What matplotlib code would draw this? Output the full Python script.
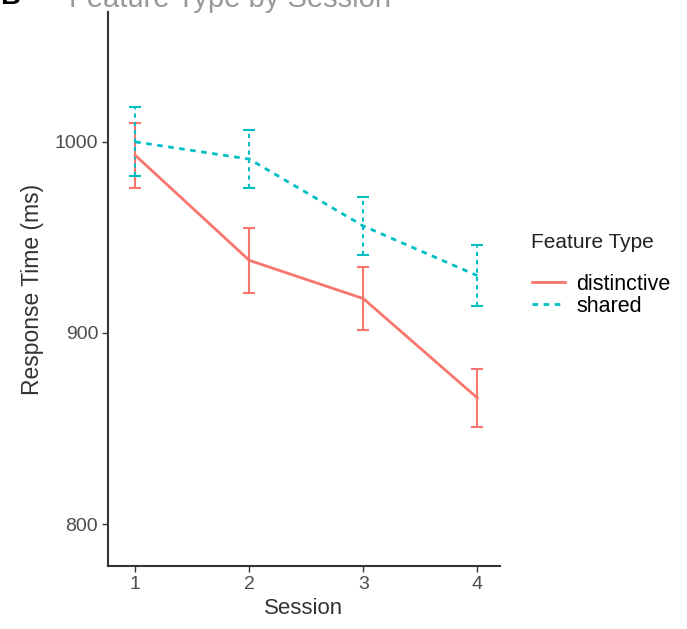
import numpy as np
import matplotlib.pyplot as plt
from matplotlib.lines import Line2D

plt.rcParams['font.family'] = ['Liberation Sans', 'DejaVu Sans']

sessions = [1, 2, 3, 4]
distinctive = [993, 938, 918, 866]
distinctive_err = [17, 17, 16.5, 15]
shared = [1000, 991, 956, 930]
shared_err = [18, 15, 15, 16]

fig = plt.figure(figsize=(6.87, 6.29), dpi=100)
ax = fig.add_axes([0.157, 0.100, 0.571, 0.881])

red = '#F8766D'
cyan = '#00BFC4'
dash = (0, (2, 2))

ax.errorbar(sessions, distinctive, yerr=distinctive_err, color=red, lw=2,
            capsize=4, capthick=1.5, elinewidth=1.5)
eb = ax.errorbar(sessions, shared, yerr=shared_err, color=cyan, lw=2, ls=dash,
                 capsize=4, capthick=1.5, elinewidth=1.5)
for line in eb.lines[2]:
    line.set_linestyle(dash)

ax.set_xlim(0.76, 4.2)
ax.set_ylim(778, 1068)
ax.set_xticks(sessions)
ax.set_yticks([800, 900, 1000])

for s in ['top', 'right']:
    ax.spines[s].set_visible(False)
for s in ['left', 'bottom']:
    ax.spines[s].set_color('#333333')
    ax.spines[s].set_linewidth(1.5)
ax.tick_params(colors='#333333', labelcolor='#4d4d4d', labelsize=14, length=4, width=1, pad=3)

ax.set_xlabel('Session', fontsize=16, color='#333333', labelpad=4)
ax.set_ylabel('Response Time (ms)', fontsize=16.5, color='#333333', labelpad=8)

handles = [Line2D([], [], color=red, lw=2), Line2D([], [], color=cyan, lw=2, ls=dash)]
ax.legend(handles, ['distinctive', 'shared'], loc='upper left',
          bbox_to_anchor=(0.775, 0.565), bbox_transform=fig.transFigure,
          frameon=False, fontsize=15.5, handlelength=1.5, handletextpad=0.55,
          labelspacing=0.05, borderpad=0, borderaxespad=0)
fig.text(0.773, 1 - 243 / 629, 'Feature Type', fontsize=15, va='center', ha='left',
         color='#222222')

# panel letter and title, cut off at the top edge as in the source image
fig.text(0.0, 1.0 - 4 / 629, 'B', fontsize=20, fontweight='bold', va='baseline', ha='left')
fig.text(0.10, 1.0 - 7 / 629, 'Feature Type by Session', fontsize=21, va='baseline',
         ha='left', color='#999999')

fig.savefig('out.png', dpi=100)
